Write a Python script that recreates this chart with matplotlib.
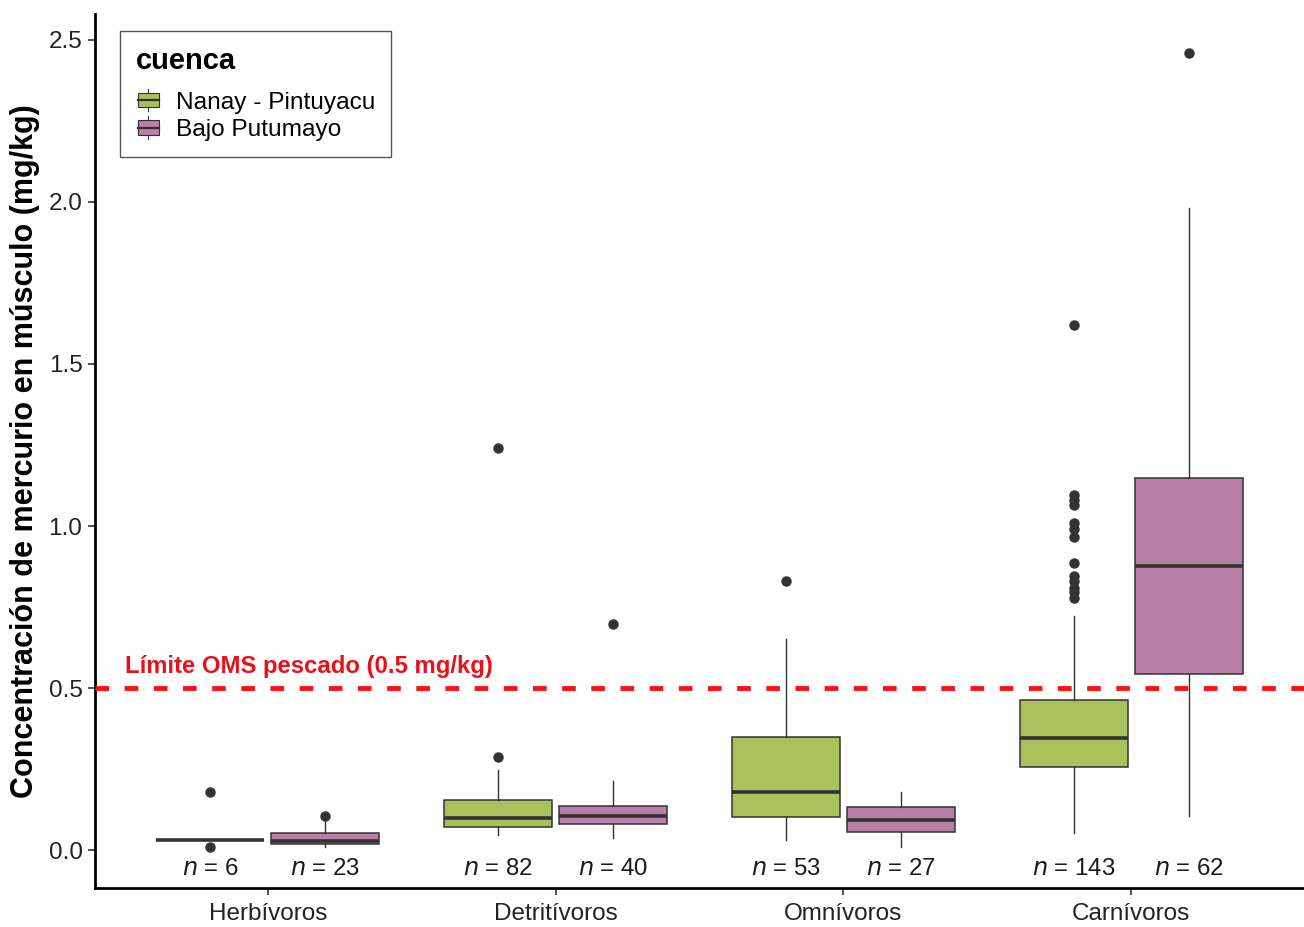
import matplotlib
matplotlib.use("Agg")
import matplotlib.pyplot as plt
from matplotlib.legend_handler import HandlerBase
from matplotlib.patches import Rectangle
from matplotlib.lines import Line2D

plt.rcParams["font.family"] = ["Liberation Sans", "DejaVu Sans"]

# --- data -----------------------------------------------------------------
grupos = ["Herbívoros", "Detritívoros", "Omnívoros", "Carnívoros"]
cuencas = ["Nanay - Pintuyacu", "Bajo Putumayo"]

# per cuenca, one entry per grupo
nanay_q1 = [0.030, 0.071, 0.101, 0.257]
nanay_med = [0.030, 0.100, 0.178, 0.345]
nanay_q3 = [0.030, 0.154, 0.348, 0.462]
nanay_lo = [0.030, 0.046, 0.031, 0.053]
nanay_hi = [0.030, 0.247, 0.650, 0.722]
nanay_out = [
    [0.180, 0.009],
    [0.287, 1.240],
    [0.831],
    [1.620, 1.095, 1.080, 1.065, 1.010, 0.990, 0.965, 0.885, 0.845,
     0.830, 0.810, 0.795, 0.778],
]
nanay_n = [6, 82, 53, 143]

putu_q1 = [0.019, 0.080, 0.057, 0.543]
putu_med = [0.029, 0.106, 0.093, 0.877]
putu_q3 = [0.053, 0.137, 0.132, 1.148]
putu_lo = [0.010, 0.037, 0.010, 0.105]
putu_hi = [0.095, 0.213, 0.178, 1.980]
putu_out = [[0.106], [0.698], [], [2.460]]
putu_n = [23, 40, 27, 62]

limite_oms = 0.5

colores = ["#A9C15A", "#B97FA6"]
borde = "#333333"


class BoxKey(HandlerBase):
    """Legend key drawn like a small ggplot boxplot glyph."""

    def create_artists(self, legend, orig_handle, xdescent, ydescent,
                       width, height, fontsize, trans):
        fc = orig_handle.get_facecolor()
        w = width * 0.85
        x0 = xdescent + (width - w) / 2
        h = height * 0.7
        y0 = -ydescent + (height - h) / 2
        cx = x0 + w / 2
        box = Rectangle((x0, y0), w, h, facecolor=fc, edgecolor=borde,
                        linewidth=0.8, transform=trans)
        med = Line2D([x0, x0 + w], [y0 + h / 2] * 2, color=borde,
                     linewidth=1.6, transform=trans)
        wl = Line2D([cx, cx], [y0 - height * 0.2, y0], color=borde,
                    linewidth=0.8, transform=trans)
        wh = Line2D([cx, cx], [y0 + h, y0 + h + height * 0.2], color=borde,
                    linewidth=0.8, transform=trans)
        return [box, med, wl, wh]


fig = plt.figure(figsize=(13.04, 9.27), dpi=100)
ax = fig.add_axes([95 / 1304, 1 - 888 / 927, 1 - 95 / 1304, (888 - 14) / 927])

offset = 0.2
ancho = 0.375
series = [
    (nanay_q1, nanay_med, nanay_q3, nanay_lo, nanay_hi, nanay_out, nanay_n),
    (putu_q1, putu_med, putu_q3, putu_lo, putu_hi, putu_out, putu_n),
]
for k, (q1, med, q3, lo, hi, out, nn) in enumerate(series):
    stats = []
    for i in range(len(grupos)):
        stats.append({"q1": q1[i], "med": med[i], "q3": q3[i],
                      "whislo": lo[i], "whishi": hi[i], "fliers": out[i]})
    pos = [i + 1 + (offset if k else -offset) for i in range(len(grupos))]
    ax.bxp(stats, positions=pos, widths=ancho, patch_artist=True,
           showcaps=False,
           boxprops=dict(facecolor=colores[k], edgecolor=borde, linewidth=1.1),
           medianprops=dict(color=borde, linewidth=2.6, solid_capstyle="butt"),
           whiskerprops=dict(color=borde, linewidth=1.0),
           flierprops=dict(marker="o", markerfacecolor=borde,
                           markeredgecolor=borde, markersize=6.5),
           zorder=2)
    for p, n in zip(pos, nn):
        ax.text(p, -0.057, f"$\\it{{n}}$ = {n}", ha="center", va="center",
                fontsize=17.3, color="#1a1a1a")

ax.axhline(limite_oms, color="#FF1010", linewidth=3.5, dashes=(2.8, 3.2),
           zorder=3)
ax.text(0.505, limite_oms + 0.045, "Límite OMS pescado (0.5 mg/kg)",
        color="#E8101A", fontsize=17.2, fontweight="bold", ha="left",
        va="baseline")

ax.set_xlim(0.4, 4.6)
ax.set_ylim(-0.117, 2.58)
ax.set_xticks(range(1, len(grupos) + 1))
ax.set_xticklabels(grupos)
ax.set_yticks([0.0, 0.5, 1.0, 1.5, 2.0, 2.5])
ax.set_yticklabels(["0.0", "0.5", "1.0", "1.5", "2.0", "2.5"])
ax.tick_params(axis="both", labelsize=17.5, length=5, width=1.2,
               color="#333333", labelcolor="#222222", pad=4)
ax.tick_params(axis="x", pad=6)
ax.set_ylabel("Concentración de mercurio en músculo (mg/kg)", fontsize=22,
              fontweight="bold", labelpad=6)

for s in ("top", "right"):
    ax.spines[s].set_visible(False)
for s in ("left", "bottom"):
    ax.spines[s].set_linewidth(2.0)
    ax.spines[s].set_color("black")

handles = [Rectangle((0, 0), 1, 1, facecolor=c) for c in colores]
leg = ax.legend(handles, cuencas, title="cuenca", loc="upper left",
                bbox_to_anchor=(25 / 1209, (888 - 31) / 874), borderaxespad=0,
                handler_map={Rectangle: BoxKey()}, fontsize=17.6,
                title_fontproperties={"weight": "bold", "size": 21},
                alignment="left", fancybox=False, framealpha=1,
                edgecolor="#555555", handlelength=1.0, handleheight=0.9,
                handletextpad=0.65, labelspacing=0.15, borderpad=0.65)
leg.get_frame().set_linewidth(1.0)
leg._legend_box.sep = 11  # gap between title and keys

fig.savefig("out.png", dpi=100)
